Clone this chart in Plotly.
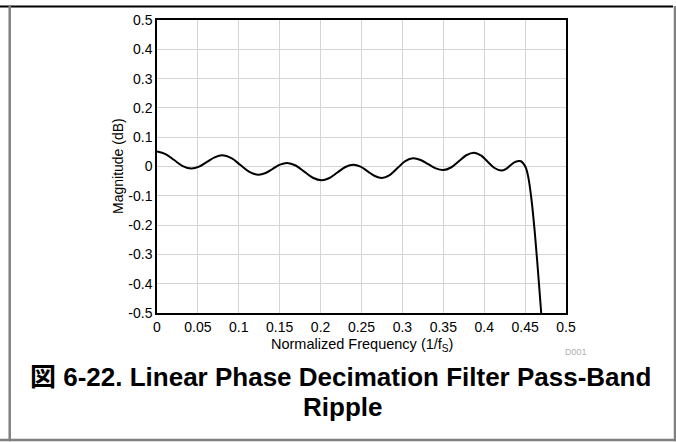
import plotly.graph_objects as go

freq = [0.0, 0.0105, 0.021, 0.0315, 0.042, 0.0515, 0.061, 0.0705, 0.080,
        0.091, 0.102, 0.113, 0.124, 0.1328, 0.1415, 0.1503, 0.159,
        0.1695, 0.180, 0.1905, 0.201, 0.2108, 0.2205, 0.2303, 0.240,
        0.2488, 0.2575, 0.2663, 0.275, 0.2845, 0.294, 0.3035, 0.313,
        0.3223, 0.3315, 0.3408, 0.350, 0.3594, 0.3688, 0.3781, 0.3875,
        0.3959, 0.4043, 0.4126, 0.421, 0.4263, 0.4315, 0.4368, 0.442,
        0.445, 0.448, 0.451, 0.454, 0.458, 0.462, 0.466, 0.4697]
mag = [0.051, 0.0425, 0.022, 0.0015, -0.007, -0.0005, 0.0155, 0.0314, 0.038,
       0.0284, 0.005, -0.0184, -0.028, -0.0222, -0.008, 0.0062, 0.012,
       0.0034, -0.0175, -0.0384, -0.047, -0.0393, -0.0205, -0.0017, 0.006,
       -0.0006, -0.0165, -0.0324, -0.039, -0.0292, -0.0055, 0.0182, 0.028,
       0.0222, 0.008, -0.0062, -0.012, -0.0034, 0.0175, 0.0384, 0.047,
       0.0381, 0.0165, -0.0051, -0.014, -0.0092, 0.0025, 0.0142, 0.019,
       0.018, 0.010, -0.005, -0.038, -0.117, -0.23, -0.366, -0.5]

x_ticks = [0, 0.05, 0.1, 0.15, 0.2, 0.25, 0.3, 0.35, 0.4, 0.45, 0.5]
x_labels = ["0", "0.05", "0.1", "0.15", "0.2", "0.25", "0.3", "0.35", "0.4", "0.45", "0.5"]
y_ticks = [0.5, 0.4, 0.3, 0.2, 0.1, 0, -0.1, -0.2, -0.3, -0.4, -0.5]
y_labels = ["0.5", "0.4", "0.3", "0.2", "0.1", "0", "-0.1", "-0.2", "-0.3", "-0.4", "-0.5"]

FONT = "Liberation Sans, Arial, sans-serif"

fig = go.Figure()
fig.add_trace(go.Scatter(x=freq, y=mag, mode="lines",
                         line=dict(color="black", width=2, shape="spline", smoothing=1.0),
                         showlegend=False, hoverinfo="skip"))

L, R, T, B = 157, 110, 18, 129
W, H = 676, 442
pw, ph = W - L - R, H - T - B

def px(x):
    return (x - L) / pw

def py(y):
    return (H - B - y) / ph

fig.update_layout(
    width=W, height=H,
    margin=dict(l=L, r=R, t=T, b=B),
    paper_bgcolor="white", plot_bgcolor="white",
    font=dict(family=FONT, size=14, color="black"),
    xaxis=dict(range=[0, 0.5], tickvals=x_ticks, ticktext=x_labels,
               showgrid=True, gridcolor="#d4d4d4", gridwidth=1,
               showline=True, linecolor="black", linewidth=1.5, mirror=True,
               ticks="", zeroline=False, tickfont=dict(size=14)),
    yaxis=dict(range=[-0.5, 0.5], tickvals=y_ticks, ticktext=y_labels,
               showgrid=True, gridcolor="#d4d4d4", gridwidth=1,
               showline=True, linecolor="black", linewidth=1.5, mirror=True,
               ticks="", zeroline=False, tickfont=dict(size=14)),
    annotations=[
        dict(text="Magnitude (dB)", x=px(118), y=py(165), xref="paper", yref="paper",
             textangle=-90, showarrow=False, font=dict(size=14), xanchor="center", yanchor="middle"),
        dict(text="Normalized Frequency (1/f<sub>S</sub>)", x=px(362), y=py(345), xref="paper", yref="paper",
             showarrow=False, font=dict(size=14.5), xanchor="center", yanchor="middle"),
        dict(text="D001", x=px(576), y=py(352), xref="paper", yref="paper",
             showarrow=False, font=dict(size=9, color="#b0b0b0"), xanchor="center", yanchor="middle"),
        dict(text="<b>図 6-22. Linear Phase Decimation Filter Pass-Band</b>", x=px(340.5), y=py(377),
             xref="paper", yref="paper", showarrow=False,
             font=dict(size=26, family="Liberation Sans, Noto Sans CJK JP, sans-serif"),
             xanchor="center", yanchor="middle"),
        dict(text="<b>Ripple</b>", x=px(342.5), y=py(408), xref="paper", yref="paper",
             showarrow=False, font=dict(size=26), xanchor="center", yanchor="middle"),
    ],
    shapes=[
        dict(type="line", xref="paper", yref="paper", x0=px(0), x1=px(673), y0=py(4.5), y1=py(4.5),
             line=dict(color="black", width=2)),
        dict(type="line", xref="paper", yref="paper", x0=px(9.7), x1=px(9.7), y0=py(4), y1=py(442),
             line=dict(color="#808080", width=2.5)),
        dict(type="line", xref="paper", yref="paper", x0=px(675), x1=px(675), y0=py(4), y1=py(442),
             line=dict(color="#808080", width=2.5)),
        dict(type="line", xref="paper", yref="paper", x0=px(0), x1=px(676), y0=py(440.8), y1=py(440.8),
             line=dict(color="#808080", width=2.5)),
    ],
)

fig.write_html("out.html", config={"displayModeBar": False},
               post_script="document.body.style.margin='0';document.body.style.overflow='hidden';")
